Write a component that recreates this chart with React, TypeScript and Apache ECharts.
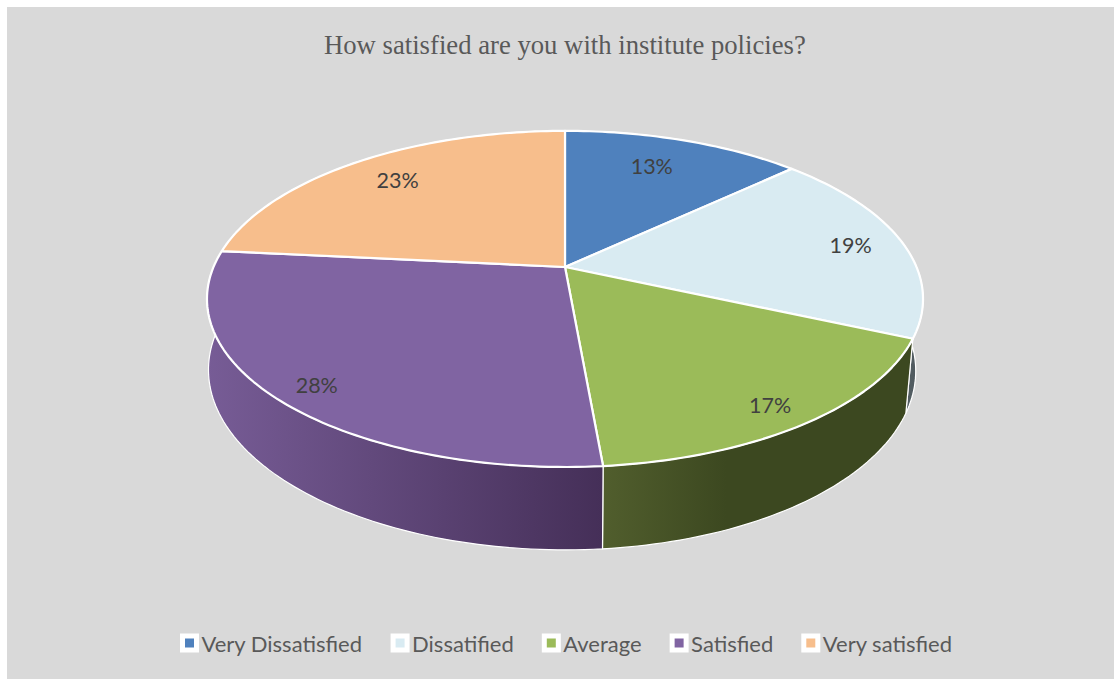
import React, { useEffect, useRef } from "react";
import * as echarts from "echarts";

const titleText = "How satisfied are you with institute policies?";
const categories = ["Very Dissatisfied", "Dissatified", "Average", "Satisfied", "Very satisfied"];
const shares = [13, 18.7, 16.9, 28, 23.4];
const topColors = ["#4F81BD", "#D9EBF2", "#9BBB59", "#8064A2", "#F7BE8C"];
const wallFrom = ["#2d4a6e", "#7c8a90", "#515E2D", "#775C96", "#9a7350"];
const wallTo = ["#2d4a6e", "#4e585d", "#3C4820", "#452F58", "#9a7350"];
const wallStop = [1, 1, 0.4, 1, 1];
const labelReachX = [0.73, 0.85, 0.85, 0.86, 0.81];
const labelReachY = [0.8, 0.85, 0.885, 0.9, 0.83];

// perspective projection of the pie's disc
const APEX_X = 565;
const APEX_Y = 267;
const A = 351.5;
const B = 162;
const K = 0.19;
const DEPTH_Y = 70.5;
const DEPTH_W = 0.012;
const DEPTH_X = -3;

const total = shares.reduce((s, v) => s + v, 0);

function project(share: number, z: number): number[] {
  const t = (share / total) * Math.PI * 2;
  const u = Math.sin(t);
  const v = -Math.cos(t);
  const w = 1 - K * v + DEPTH_W * z;
  return [APEX_X + DEPTH_X * u * u * z + (A * u) / w, APEX_Y + (B * v + DEPTH_Y * z) / w];
}

function rim(start: number, end: number, z: number): number[][] {
  const n = Math.max(8, Math.ceil(end - start) * 3);
  const pts: number[][] = [];
  for (let i = 0; i <= n; i++) pts.push(project(start + ((end - start) * i) / n, z));
  return pts;
}

function makeRenderItem(index: number) {
  return (_params: any, api: any) => {
    const start = api.value(0);
    const end = api.value(1);
    const top = rim(start, end, 0);
    const bottom = rim(start, end, 1);
    const xs = top.concat(bottom).map((p) => p[0]);
    const x0 = Math.min(...xs);
    const x1 = Math.max(...xs);
    const mid = project((start + end) / 2, 0);
    return {
      type: "group",
      children: [
        {
          type: "polygon",
          z2: 1,
          shape: { points: top.concat(bottom.slice().reverse()) },
          style: {
            fill: new echarts.graphic.LinearGradient(
              x0, 0, x1, 0,
              [
                { offset: 0, color: wallFrom[index] },
                { offset: wallStop[index], color: wallTo[index] },
                { offset: 1, color: wallTo[index] },
              ],
              true
            ),
            stroke: "#ffffff",
            lineWidth: 1.2,
            lineJoin: "round",
          },
        },
        {
          type: "polygon",
          z2: 10,
          shape: { points: [[APEX_X, APEX_Y], ...top] },
          style: { fill: topColors[index], stroke: "#ffffff", lineWidth: 2.2, lineJoin: "round" },
        },
        {
          type: "text",
          z2: 20,
          x: APEX_X + (mid[0] - APEX_X) * labelReachX[index],
          y: APEX_Y + (mid[1] - APEX_Y) * labelReachY[index],
          style: {
            text: `${Math.round(api.value(2))}%`,
            font: "21.5px Lato",
            fill: "#404040",
            align: "center",
            verticalAlign: "middle",
          },
        },
      ],
    };
  };
}

let running = 0;
const seriesList = categories.map((name, i) => {
  const start = running;
  running += shares[i];
  return {
    type: "custom",
    name,
    coordinateSystem: "none",
    silent: true,
    itemStyle: { color: topColors[i] },
    renderItem: makeRenderItem(i),
    data: [{ name, value: [start, running, shares[i]] }],
  };
});

export default function App() {
  const ref = useRef<HTMLDivElement>(null);
  useEffect(() => {
    const chart = echarts.init(ref.current!, undefined, { renderer: "svg" });
    chart.setOption({
      animation: false,
      backgroundColor: "#ffffff",
      graphic: [
        {
          type: "rect",
          z: -10,
          silent: true,
          shape: { x: 7, y: 7, width: 1107, height: 672 },
          style: { fill: "#D9D9D9" },
        },
      ],
      title: {
        text: titleText,
        left: 324,
        top: 31,
        padding: 0,
        textStyle: { fontFamily: "Liberation Serif", fontSize: 26.7, fontWeight: "normal", color: "#595959" },
      },
      legend: {
        left: 180,
        top: 632,
        padding: 0,
        itemWidth: 14,
        itemHeight: 14,
        itemGap: 28,
        icon: "rect",
        selectedMode: false,
        data: categories,
        itemStyle: { borderColor: "#ffffff", borderWidth: 5 },
        textStyle: { fontFamily: "Lato", fontSize: 22, color: "#595959", padding: [0, 0, 0, 0] },
      },
      series: seriesList,
    });
    return () => chart.dispose();
  }, []);
  return (
    <div
      ref={ref}
      style={{ position: "fixed", left: 0, top: 0, width: 1114, height: 679 }}
    />
  );
}
